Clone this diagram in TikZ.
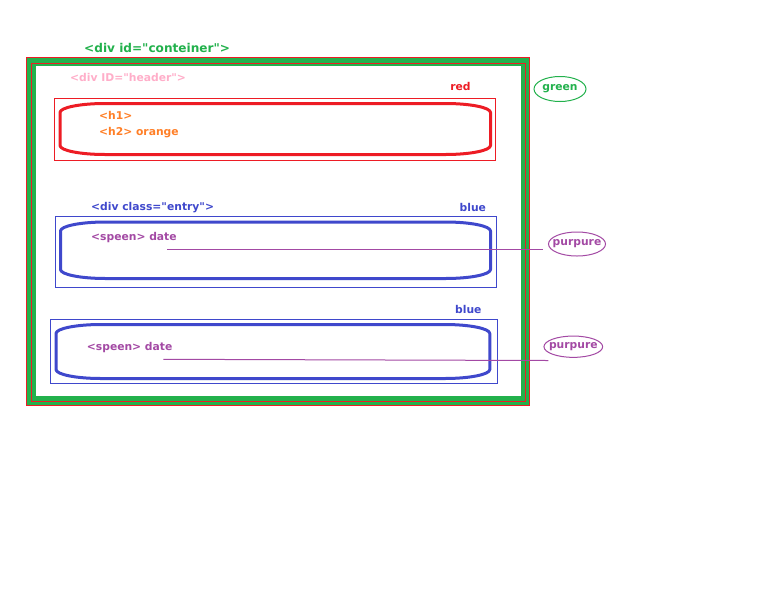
\documentclass[tikz,border=0pt]{standalone}
\usepackage{fontspec}
\setmainfont{DejaVu Sans}[Ligatures=TeXOff]
\usetikzlibrary{shapes.geometric}

\definecolor{redc}{HTML}{ED1C24}
\definecolor{greenc}{HTML}{22B14C}
\definecolor{bluec}{HTML}{3F48CC}
\definecolor{purplec}{HTML}{A349A4}
\definecolor{orangec}{HTML}{FF7F27}
\definecolor{pinkc}{HTML}{FFAEC9}

% straight double quote
\newcommand{\dq}{\symbol{34}}

% pill-shaped outline with elliptical corners: left, top, right, bottom
\newcommand{\pillpath}[4]{%
  (#1,#2+9) arc[start angle=180,end angle=270,x radius=45,y radius=9]
  -- (#3-45,#2) arc[start angle=270,end angle=360,x radius=45,y radius=9]
  -- (#3,#4-9) arc[start angle=0,end angle=90,x radius=45,y radius=9]
  -- (#1+45,#4) arc[start angle=90,end angle=180,x radius=45,y radius=9]
  -- cycle}

\tikzset{
  lbl/.style={inner sep=0pt, font=\fontsize{10.75}{12}\selectfont\bfseries},
  thin/.style={line width=1pt},
  pill/.style={line width=3pt, line join=round},
  tag/.style={ellipse, draw, line width=1pt, inner sep=0pt},
}

\begin{document}
\begin{tikzpicture}[x=1pt,y=-1pt]
  \useasboundingbox[fill=white] (0,0) rectangle (783,592);

  % container frame
  \draw[redc, thin] (26.5,57.7) rectangle (529.3,405.8);
  \draw[greenc, line width=8.5pt] (31.7,62) rectangle (525,400.5);
  \draw[redc, thin] (31.7,63.5) rectangle (525.5,401);
  \node[lbl, greenc, anchor=base west, font=\fontsize{12.1}{14}\selectfont\bfseries]
    (title) at (84,52.5) {<div id=\dq conteiner\dq>};

  % header block
  \node[lbl, pinkc, anchor=base west] (hdr) at (70,81.3) {<div ID=\dq header\dq>};
  \draw[redc, thin] (54.5,98.5) rectangle (495.5,160);
  \draw[redc, pill] \pillpath{60}{103.5}{490.5}{154.5};
  \node[lbl, redc, anchor=base] (redlbl) at (460.5,90.7) {red};
  \node[lbl, orangec, anchor=base west] (h1) at (99,119.3) {<h1>};
  \node[lbl, orangec, anchor=base west] (h2) at (99,135) {<h2> orange};
  \node[tag, greenc, minimum width=52pt, minimum height=25pt] (green) at (560,89) {};
  \node[lbl, greenc] (greenlbl) at (green.center) {green};

  % first entry
  \node[lbl, bluec, anchor=base west] (entry) at (91,210) {<div class=\dq entry\dq>};
  \draw[bluec, thin] (55.5,216.5) rectangle (496.5,287.5);
  \draw[bluec, pill] \pillpath{60.5}{222}{490.5}{278.5};
  \node[lbl, bluec, anchor=base] (blueA) at (472.8,211.3) {blue};
  \node[lbl, purplec, anchor=base west] (spanA) at (91,240) {<speen> date};
  \node[tag, purplec, minimum width=57pt, minimum height=24pt] (purpA) at (577,244) {};
  \node[lbl, purplec] (purpAlbl) at (purpA.center) {purpure};
  \coordinate (spanAend) at (167,249.3);
  \coordinate (purpAend) at (543.3,249.3);

  % second entry
  \draw[bluec, thin] (50.5,319.8) rectangle (497.5,383.5);
  \draw[bluec, pill] \pillpath{56}{324.5}{489.8}{378.5};
  \node[lbl, bluec, anchor=base] (blueB) at (468.3,313) {blue};
  \node[lbl, purplec, anchor=base west] (spanB) at (86.7,350.7) {<speen> date};
  \node[tag, purplec, minimum width=58.7pt, minimum height=21.3pt] (purpB) at (573.3,346.7) {};
  \node[lbl, purplec] (purpBlbl) at (purpB.center) {purpure};
  \coordinate (spanBend) at (163.3,359.3);
  \coordinate (purpBend) at (548.3,360.5);

  % connectors from the span labels to their tags
  \draw[purplec, thin] (spanAend) -- (purpAend);
  \draw[purplec, thin] (spanBend) -- (purpBend);
\end{tikzpicture}
\end{document}
